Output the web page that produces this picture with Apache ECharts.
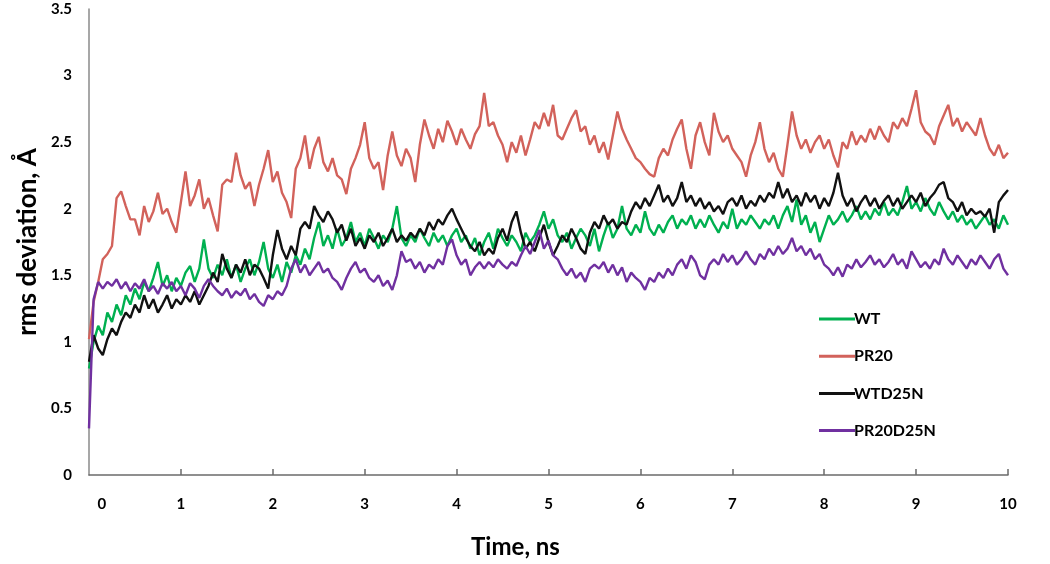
<!DOCTYPE html>
<html>
<head>
<meta charset="utf-8">
<script src="https://cdn.jsdelivr.net/npm/echarts@6/dist/echarts.min.js"></script>
<style>html,body{margin:0;padding:0;background:#fff}#c{width:1050px;height:564px}</style>
</head>
<body>
<div id="c"></div>
<script>
// sampling step of the trajectories (ns)
const STEP = 0.05;
const seriesNames = ['WT', 'PR20', 'WTD25N', 'PR20D25N'];
const xTickValues = [1, 2, 3, 4, 5, 6, 7, 8, 9, 10];
const xLabelValues = [0.14, 1, 2, 3, 4, 5, 6, 7, 8, 9, 10];
const yTicks = [0, 0.5, 1, 1.5, 2, 2.5, 3, 3.5];

const wt = [
0.80,1.00,1.12,1.05,1.22,1.15,1.28,1.20,1.35,1.28,
1.40,1.32,1.45,1.38,1.48,1.60,1.42,1.50,1.38,1.48,
1.42,1.52,1.57,1.45,1.55,1.77,1.55,1.48,1.58,1.50,
1.62,1.48,1.58,1.45,1.55,1.62,1.50,1.60,1.75,1.55,
1.48,1.58,1.45,1.60,1.52,1.65,1.58,1.70,1.62,1.78,
1.90,1.72,1.80,1.70,1.85,1.72,1.78,1.90,1.75,1.82,
1.72,1.85,1.78,1.70,1.80,1.75,1.85,2.02,1.78,1.72,
1.80,1.75,1.85,1.78,1.72,1.82,1.75,1.80,1.72,1.80,
1.85,1.75,1.80,1.70,1.78,1.65,1.75,1.82,1.70,1.85,
1.78,1.72,1.80,1.75,1.68,1.82,1.75,1.80,1.88,1.98,
1.85,1.92,1.80,1.75,1.82,1.70,1.78,1.85,1.80,1.72,
1.85,1.68,1.80,1.90,1.78,1.85,2.02,1.85,1.80,1.88,
1.82,1.98,1.85,1.80,1.88,1.82,1.90,1.95,1.85,1.92,
1.88,1.95,1.85,1.92,1.86,1.95,1.88,1.82,1.90,1.85,
2.00,1.85,1.92,1.88,1.95,1.90,1.85,1.92,1.88,1.95,
1.85,1.95,2.02,1.90,2.07,1.88,1.95,1.82,1.90,1.75,
1.85,1.95,1.88,1.92,1.98,1.90,1.95,2.02,1.92,1.98,
1.92,2.00,1.95,2.05,1.95,2.00,1.95,2.05,2.17,2.00,
2.05,1.98,2.08,2.00,1.95,2.05,1.98,1.92,1.98,1.90,
1.95,1.88,1.92,1.85,1.90,1.95,1.88,1.92,1.85,1.95,1.88
];
const pr20 = [
1.02,1.30,1.45,1.62,1.66,1.72,2.08,2.13,2.02,1.92,
1.92,1.80,2.02,1.90,1.98,2.12,1.96,2.00,1.90,1.82,
2.05,2.28,2.02,2.10,2.22,2.00,2.08,1.95,1.83,2.18,
2.22,2.20,2.42,2.25,2.15,2.20,2.02,2.18,2.30,2.44,
2.20,2.28,2.12,2.05,1.93,2.30,2.38,2.55,2.30,2.45,
2.54,2.35,2.28,2.38,2.25,2.22,2.11,2.30,2.38,2.48,
2.65,2.38,2.30,2.35,2.14,2.40,2.58,2.40,2.32,2.45,
2.38,2.20,2.48,2.67,2.55,2.45,2.60,2.50,2.66,2.58,
2.48,2.60,2.52,2.45,2.56,2.62,2.87,2.62,2.65,2.55,
2.48,2.35,2.50,2.42,2.55,2.40,2.52,2.65,2.60,2.72,
2.62,2.78,2.55,2.52,2.60,2.68,2.74,2.58,2.62,2.48,
2.55,2.42,2.50,2.37,2.55,2.73,2.60,2.52,2.45,2.38,
2.35,2.30,2.26,2.24,2.38,2.45,2.40,2.52,2.60,2.67,
2.45,2.30,2.55,2.65,2.50,2.40,2.72,2.58,2.50,2.55,
2.45,2.40,2.35,2.24,2.40,2.50,2.65,2.45,2.35,2.42,
2.30,2.24,2.48,2.73,2.55,2.45,2.52,2.42,2.50,2.55,
2.45,2.52,2.40,2.31,2.50,2.45,2.58,2.48,2.55,2.50,
2.60,2.52,2.62,2.55,2.50,2.65,2.60,2.68,2.62,2.75,
2.89,2.65,2.58,2.55,2.48,2.62,2.70,2.78,2.62,2.68,
2.58,2.65,2.60,2.55,2.68,2.55,2.45,2.40,2.48,2.38,2.42
];
const wtd25n = [
0.85,1.05,0.95,0.90,1.02,1.10,1.05,1.15,1.22,1.18,
1.28,1.22,1.35,1.25,1.32,1.22,1.28,1.35,1.25,1.32,
1.28,1.35,1.30,1.38,1.28,1.35,1.42,1.52,1.45,1.66,
1.55,1.48,1.58,1.52,1.62,1.50,1.58,1.55,1.48,1.40,
1.65,1.84,1.70,1.62,1.72,1.65,1.85,1.90,1.85,2.02,
1.95,1.90,1.98,1.92,1.82,1.88,1.76,1.85,1.72,1.78,
1.70,1.80,1.75,1.82,1.72,1.78,1.85,1.75,1.80,1.76,
1.82,1.78,1.85,1.80,1.90,1.84,1.92,1.88,1.95,2.00,
1.92,1.85,1.78,1.72,1.68,1.75,1.65,1.70,1.66,1.78,
1.85,1.76,1.90,1.98,1.82,1.70,1.75,1.68,1.78,1.88,
1.75,1.65,1.72,1.80,1.75,1.85,1.78,1.70,1.66,1.82,
1.90,1.85,1.95,1.88,1.92,1.85,1.90,1.88,1.98,2.05,
2.00,2.08,2.02,2.10,2.18,2.05,2.10,2.02,2.08,2.20,
2.05,2.10,2.02,2.08,2.00,2.05,1.98,2.02,1.96,2.05,
2.08,2.02,2.10,2.00,2.06,2.02,2.10,2.05,2.12,2.08,
2.20,2.08,2.15,2.05,2.10,2.02,2.12,2.05,2.10,2.00,
2.08,2.02,2.12,2.27,2.10,2.02,2.08,1.98,2.05,2.10,
2.02,2.08,2.00,2.06,2.10,2.02,2.08,2.00,2.05,2.10,
2.05,2.12,2.02,2.08,2.12,2.18,2.20,2.08,2.05,1.98,
2.05,1.95,2.00,1.96,1.98,1.94,2.00,1.82,2.05,2.10,2.14
];
const pr20d25n = [
0.35,1.32,1.45,1.40,1.45,1.42,1.47,1.40,1.45,1.38,
1.44,1.40,1.47,1.38,1.42,1.36,1.44,1.40,1.45,1.38,
1.42,1.35,1.44,1.40,1.33,1.42,1.47,1.42,1.38,1.35,
1.40,1.33,1.38,1.35,1.40,1.32,1.36,1.30,1.27,1.35,
1.32,1.38,1.35,1.42,1.55,1.62,1.52,1.58,1.50,1.55,
1.60,1.52,1.55,1.48,1.45,1.39,1.48,1.55,1.60,1.52,
1.55,1.48,1.45,1.50,1.42,1.46,1.39,1.50,1.68,1.60,
1.62,1.55,1.60,1.52,1.58,1.55,1.62,1.58,1.72,1.77,
1.65,1.58,1.62,1.50,1.56,1.60,1.55,1.60,1.56,1.62,
1.58,1.55,1.60,1.57,1.65,1.72,1.66,1.75,1.84,1.70,
1.76,1.65,1.62,1.55,1.50,1.55,1.48,1.52,1.45,1.55,
1.58,1.55,1.60,1.52,1.58,1.50,1.56,1.45,1.52,1.48,
1.45,1.39,1.48,1.45,1.52,1.48,1.55,1.50,1.58,1.62,
1.55,1.65,1.60,1.50,1.47,1.58,1.62,1.58,1.66,1.60,
1.65,1.58,1.62,1.68,1.62,1.58,1.66,1.62,1.70,1.65,
1.72,1.66,1.70,1.78,1.68,1.72,1.65,1.70,1.62,1.66,
1.58,1.55,1.50,1.56,1.49,1.58,1.55,1.62,1.56,1.60,
1.65,1.58,1.62,1.56,1.60,1.66,1.58,1.62,1.55,1.68,
1.62,1.56,1.60,1.55,1.62,1.58,1.70,1.62,1.58,1.65,
1.60,1.55,1.62,1.58,1.65,1.60,1.55,1.62,1.66,1.55,1.50
];

const colors = ['#00b050', '#d2625b', '#111111', '#7030a0'];
const allValues = [wt, pr20, wtd25n, pr20d25n];

function toPairs(vals) {
  return vals.map((v, i) => [+(i * STEP).toFixed(2), v]);
}

const chart = echarts.init(document.getElementById('c'), null, {renderer: 'canvas'});
const FONT = 'Lato, "Open Sans", sans-serif';

chart.setOption({
  animation: false,
  backgroundColor: '#ffffff',
  grid: {left: 89, right: 42, top: 9, bottom: 88, containLabel: false},
  legend: {
    orient: 'vertical',
    left: 814,
    top: 306,
    icon: 'rect',
    itemWidth: 36,
    itemHeight: 3,
    itemGap: 21.2,
    textStyle: {fontFamily: FONT, fontWeight: 'bold', fontSize: 16, color: '#000', padding: [0, 0, 0, -6]},
    data: seriesNames
  },
  xAxis: {
    type: 'value',
    min: 0,
    max: 10,
    name: 'Time, ns',
    nameLocation: 'middle',
    nameGap: 60,
    nameTextStyle: {fontFamily: FONT, fontWeight: 'bold', fontSize: 24, color: '#000', padding: [0, 66, 0, 0]},
    axisLine: {show: true, onZero: false, lineStyle: {color: '#6b6b6b', width: 1.5}},
    axisTick: {show: true, inside: true, length: 6, customValues: xTickValues, lineStyle: {color: '#6b6b6b', width: 1.5}},
    axisLabel: {
      customValues: xLabelValues,
      formatter: v => String(Math.round(v)),
      margin: 22,
      fontFamily: FONT, fontWeight: 'bold', fontSize: 15, color: '#000'
    },
    splitLine: {show: false}
  },
  yAxis: {
    type: 'value',
    min: 0,
    max: 3.5,
    interval: 0.5,
    name: 'rms deviation, Å',
    nameLocation: 'middle',
    nameGap: 46,
    nameRotate: 90,
    nameTextStyle: {fontFamily: FONT, fontWeight: 'bold', fontSize: 26, color: '#000'},
    axisLine: {show: true, lineStyle: {color: '#8a8a8a', width: 1.5}},
    axisTick: {show: false},
    axisLabel: {
      customValues: yTicks,
      margin: 17,
      fontFamily: FONT, fontWeight: 'bold', fontSize: 15, color: '#000'
    },
    splitLine: {show: false}
  },
  series: seriesNames.map((n, i) => ({
    name: n,
    type: 'line',
    data: toPairs(allValues[i]),
    symbol: 'none',
    showSymbol: false,
    color: colors[i],
    lineStyle: {color: colors[i], width: 2.4},
    itemStyle: {color: colors[i]},
    z: 2 + i
  }))
});
</script>
</body>
</html>
